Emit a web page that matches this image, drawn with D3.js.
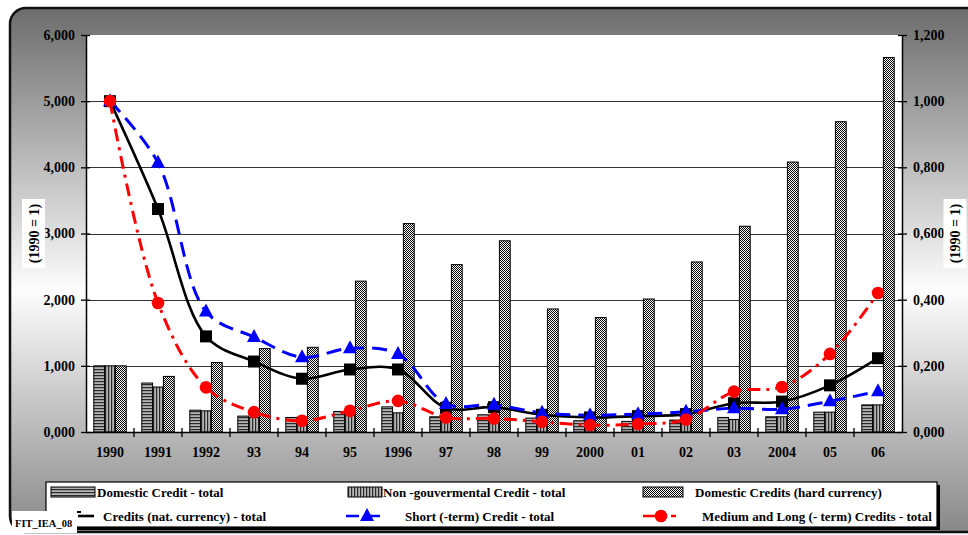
<!DOCTYPE html>
<html>
<head>
<meta charset="utf-8">
<script src="https://cdn.jsdelivr.net/npm/d3@7"></script>
<style>
  html, body { margin: 0; padding: 0; background: #ffffff; }
  svg { display: block; }
  text { font-family: "Liberation Serif", "Times New Roman", serif; font-weight: bold; fill: #000; }
</style>
</head>
<body>
<svg id="chart" width="968" height="535"></svg>
<script>
// Years on the category axis
const years = ["1990","1991","1992","93","94","95","1996","97","98","99","2000","01","02","03","2004","05","06"];

// Bar series (left axis, 1990 = 1)
const domesticTotal = [1.00,0.74,0.33,0.24,0.22,0.31,0.38,0.23,0.26,0.21,0.17,0.16,0.18,0.22,0.23,0.30,0.41];
const nonGovTotal   = [1.00,0.68,0.32,0.22,0.18,0.26,0.29,0.18,0.20,0.18,0.15,0.15,0.16,0.19,0.23,0.30,0.41];
const hardCurrency  = [1.00,0.84,1.05,1.26,1.28,2.28,3.15,2.53,2.89,1.86,1.73,2.01,2.57,3.11,4.08,4.69,5.66];

// Line series (right axis, 1990 = 1)
const natCurrency = [1.000,0.674,0.289,0.213,0.161,0.189,0.189,0.073,0.075,0.052,0.044,0.048,0.054,0.087,0.092,0.141,0.223];
const shortTerm   = [1.000,0.814,0.364,0.287,0.226,0.253,0.236,0.085,0.082,0.058,0.051,0.054,0.061,0.072,0.069,0.093,0.123];
const mediumLong  = [1.000,0.390,0.135,0.060,0.034,0.064,0.094,0.044,0.041,0.031,0.021,0.024,0.038,0.122,0.136,0.236,0.420];

// Axis ticks
const leftTicks  = [0,1,2,3,4,5,6];
const rightTicks = [0,0.2,0.4,0.6,0.8,1.0,1.2];

// Legend labels
const barLabels  = ["Domestic Credit - total", "Non -gouvermental Credit - total", "Domestic Credits (hard currency)"];
const lineLabels = ["Credits (nat. currency) - total", "Short (-term) Credit - total", "Medium and Long (- term) Credits - total"];
const yTitle = "(1990 = 1)";
const tagText = "FIT_IEA_08";

const svg = d3.select("#chart");
const defs = svg.append("defs");

// Panel background gradient
const grad = defs.append("linearGradient").attr("id", "panelGrad")
  .attr("x1", 0).attr("y1", 0).attr("x2", 0).attr("y2", 1);
grad.append("stop").attr("offset", "0").attr("stop-color", "#6c6c6c");
grad.append("stop").attr("offset", "0.54").attr("stop-color", "#fdfdfd");
grad.append("stop").attr("offset", "1").attr("stop-color", "#888888");

// Fill patterns for the bars
const pH = defs.append("pattern").attr("id", "hStripe").attr("patternUnits", "userSpaceOnUse")
  .attr("width", 4).attr("height", 3);
pH.append("rect").attr("width", 4).attr("height", 3).attr("fill", "#b4b4b4");
pH.append("rect").attr("width", 4).attr("height", 1.2).attr("fill", "#2a2a2a");

const pV = defs.append("pattern").attr("id", "vStripe").attr("patternUnits", "userSpaceOnUse")
  .attr("width", 3).attr("height", 4);
pV.append("rect").attr("width", 3).attr("height", 4).attr("fill", "#b4b4b4");
pV.append("rect").attr("width", 1.2).attr("height", 4).attr("fill", "#2a2a2a");

const pC = defs.append("pattern").attr("id", "checker").attr("patternUnits", "userSpaceOnUse")
  .attr("width", 2).attr("height", 2);
pC.append("rect").attr("width", 2).attr("height", 2).attr("fill", "#ffffff");
pC.append("rect").attr("width", 1).attr("height", 1).attr("fill", "#000000");
pC.append("rect").attr("x", 1).attr("y", 1).attr("width", 1).attr("height", 1).attr("fill", "#000000");

const barFills = ["url(#hStripe)", "url(#vStripe)", "url(#checker)"];

// Rounded panel
svg.append("rect")
  .attr("x", 10).attr("y", 8).attr("width", 980).attr("height", 524)
  .attr("rx", 16).attr("ry", 16)
  .attr("fill", "url(#panelGrad)")
  .attr("stroke", "#111").attr("stroke-width", 2.5);

// Plot geometry
const plot = { left: 86, right: 902, top: 35, bottom: 432 };

svg.append("rect")
  .attr("x", plot.left).attr("y", plot.top)
  .attr("width", plot.right - plot.left).attr("height", plot.bottom - plot.top)
  .attr("fill", "#ffffff");

// Scales
const x = d3.scaleBand().domain(years).range([plot.left, plot.right]).paddingInner(0).paddingOuter(0);
const barKeys = ["domestic", "nonGov", "hard"];
const xSub = d3.scaleBand().domain(barKeys).range([0, x.bandwidth()]).paddingInner(0).paddingOuter(0.72);
const yL = d3.scaleLinear().domain([0, 6]).range([plot.bottom, plot.top]);
const yR = d3.scaleLinear().domain([0, 1.2]).range([plot.bottom, plot.top]);

const fmt = v => d3.format(".3f")(v).replace(".", ",");

// Gridlines
svg.append("g").selectAll("line")
  .data(leftTicks.filter(t => t > 0 && t < 6))
  .join("line")
  .attr("x1", plot.left).attr("x2", plot.right)
  .attr("y1", d => Math.round(yL(d)) + 0.5).attr("y2", d => Math.round(yL(d)) + 0.5)
  .attr("stroke", "#333").attr("stroke-width", 1);

// Bars
const barSeries = [domesticTotal, nonGovTotal, hardCurrency];
const barData = [];
years.forEach((yr, i) => {
  barKeys.forEach((k, j) => barData.push({ year: yr, key: k, idx: j, value: barSeries[j][i] }));
});
svg.append("g").selectAll("rect")
  .data(barData)
  .join("rect")
  .attr("x", d => x(d.year) + xSub(d.key))
  .attr("y", d => yL(d.value))
  .attr("width", xSub.bandwidth())
  .attr("height", d => yL(0) - yL(d.value))
  .attr("fill", d => barFills[d.idx])
  .attr("stroke", "#000").attr("stroke-width", 1);

// Lines
const lineSeries = [
  { values: natCurrency, color: "#000000", width: 2.6, dash: null, marker: "square" },
  { values: shortTerm,   color: "#0000ff", width: 3,   dash: "15,8", marker: "triangle" },
  { values: mediumLong,  color: "#ff0000", width: 3,   dash: "13,6,3,6", marker: "circle" }
];
const cx = yr => x(yr) + x.bandwidth() / 2;
const lineGen = d3.line()
  .x((d, i) => cx(years[i]))
  .y(d => yR(d))
  .curve(d3.curveCatmullRom.alpha(0.5));

lineSeries.forEach(s => {
  svg.append("path")
    .datum(s.values)
    .attr("d", lineGen)
    .attr("fill", "none")
    .attr("stroke", s.color)
    .attr("stroke-width", s.width)
    .attr("stroke-dasharray", s.dash);
});

function drawMarker(g, type, color, px, py) {
  if (type === "square") {
    g.append("rect").attr("x", px - 6).attr("y", py - 6).attr("width", 12).attr("height", 12).attr("fill", color);
  } else if (type === "triangle") {
    g.append("path").attr("d", `M${px},${py - 8}L${px + 7},${py + 5}L${px - 7},${py + 5}Z`).attr("fill", color);
  } else {
    g.append("circle").attr("cx", px).attr("cy", py).attr("r", 6.3).attr("fill", color);
  }
}

lineSeries.forEach(s => {
  const g = svg.append("g");
  s.values.forEach((v, i) => drawMarker(g, s.marker, s.color, cx(years[i]), yR(v)));
});

// Left axis
const axL = svg.append("g").attr("transform", `translate(${plot.left},0)`)
  .call(d3.axisLeft(yL).tickValues(leftTicks).tickFormat(fmt).tickSize(5).tickPadding(6));
axL.select(".domain").attr("stroke", "#000").attr("stroke-width", 1.5).attr("d", `M0.5,${plot.top}V${plot.bottom}`);
axL.selectAll(".tick line").attr("x1", 4).attr("stroke", "#000").attr("stroke-width", 1.3);
axL.selectAll(".tick text").style("font-size", "14px").style("font-family", "Liberation Serif").style("font-weight", "bold").attr("fill", "#000");

// Right axis
const axR = svg.append("g").attr("transform", `translate(${plot.right},0)`)
  .call(d3.axisRight(yR).tickValues(rightTicks).tickFormat(fmt).tickSize(5).tickPadding(6));
axR.select(".domain").attr("stroke", "#000").attr("stroke-width", 1.5).attr("d", `M0.5,${plot.top}V${plot.bottom}`);
axR.selectAll(".tick line").attr("x1", -4).attr("stroke", "#000").attr("stroke-width", 1.3);
axR.selectAll(".tick text").style("font-size", "14px").style("font-family", "Liberation Serif").style("font-weight", "bold").attr("fill", "#000");

// Category axis
const axB = svg.append("g").attr("transform", `translate(0,${plot.bottom})`)
  .call(d3.axisBottom(x).tickSize(0).tickPadding(15));
axB.select(".domain").attr("stroke", "#000").attr("stroke-width", 1.5).attr("d", `M${plot.left},0.5H${plot.right}`);
axB.selectAll(".tick text").style("font-size", "14px").style("font-family", "Liberation Serif").style("font-weight", "bold").attr("fill", "#000");
svg.append("g").selectAll("line")
  .data(years.slice(1))
  .join("line")
  .attr("x1", d => x(d)).attr("x2", d => x(d))
  .attr("y1", plot.bottom - 4).attr("y2", plot.bottom + 5)
  .attr("stroke", "#000").attr("stroke-width", 1.3);

// Axis titles on white boxes
function yTitleAt(px) {
  svg.append("rect").attr("x", px - 11.5).attr("y", 199).attr("width", 23).attr("height", 69).attr("fill", "#fff");
  svg.append("text")
    .attr("transform", `translate(${px + 5},${233.5}) rotate(-90)`)
    .attr("text-anchor", "middle")
    .style("font-size", "14px")
    .text(yTitle);
}
yTitleAt(33.5);
yTitleAt(955);

// Legend
const lg = svg.append("g");
lg.append("rect").attr("x", 49).attr("y", 485).attr("width", 891).attr("height", 45).attr("fill", "#000");
lg.append("rect").attr("x", 46).attr("y", 482).attr("width", 891).attr("height", 45)
  .attr("fill", "#fff").attr("stroke", "#000").attr("stroke-width", 1.2);

const barLegendPos = [
  { sx: 51, sw: 44, tx: 97 },
  { sx: 348, sw: 34, tx: 383 },
  { sx: 643, sw: 40, tx: 695 }
];
barLabels.forEach((lab, j) => {
  const p = barLegendPos[j];
  lg.append("rect").attr("x", p.sx).attr("y", 487).attr("width", p.sw).attr("height", 10)
    .attr("fill", barFills[j]).attr("stroke", "#000").attr("stroke-width", 1);
  lg.append("text").attr("x", p.tx).attr("y", 497).style("font-size", "13px").text(lab);
});

const lineLegendPos = [
  { x1: 78, x2: 94, mx: 86, tx: 103 },
  { x1: 346, x2: 388, mx: 367, tx: 405 },
  { x1: 643, x2: 676, mx: 661, tx: 702 }
];
lineLabels.forEach((lab, j) => {
  const p = lineLegendPos[j];
  const s = lineSeries[j];
  lg.append("line").attr("x1", p.x1).attr("x2", p.x2).attr("y1", 516).attr("y2", 516)
    .attr("stroke", s.color).attr("stroke-width", 2.6)
    .attr("stroke-dasharray", j === 1 ? "13,8" : (j === 2 ? "13,6,3,6" : null));
  if (j > 0) drawMarker(lg, s.marker, s.color, p.mx, 516);
  lg.append("text").attr("x", p.tx).attr("y", 521).style("font-size", "13px").text(lab);
});
lg.append("rect").attr("x", 76).attr("y", 511).attr("width", 5).attr("height", 2).attr("fill", "#000");

// Figure tag
svg.append("rect").attr("x", 12).attr("y", 511).attr("width", 65).attr("height", 22).attr("fill", "#fff");
svg.append("text").attr("x", 15).attr("y", 526.5).style("font-size", "10.5px").text(tagText);
</script>
</body>
</html>
